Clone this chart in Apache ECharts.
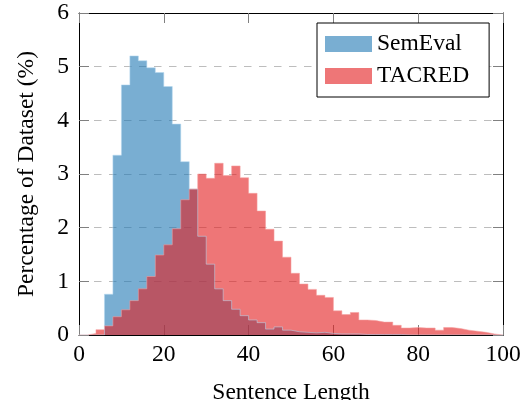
<!DOCTYPE html>
<html>
<head>
<meta charset="utf-8">
<script src="https://cdn.jsdelivr.net/npm/echarts@6/dist/echarts.min.js"></script>
<style>
html,body{margin:0;padding:0;background:#fff;}
#chart{width:525px;height:400px;}
</style>
</head>
<body>
<div id="chart"></div>
<script>
// Histogram bins (left edges, bin width 2)
const binStart = [0,2,4,6,8,10,12,14,16,18,20,22,24,26,28,30,32,34,36,38,40,42,44,46,48,50,52,54,56,58,60,62,64,66,68,70,72,74,76,78,80,82,84,86,88,90,92,94,96,98];
const binWidth = 2;
const semevalValues = [0,0,0,0.76,3.35,4.66,5.2,5.11,4.98,4.89,4.63,3.93,3.23,2.72,1.84,1.32,0.86,0.64,0.48,0.36,0.28,0.23,0.11,0.15,0.09,0.06,0.05,0.04,0.05,0.03,0.02,0.02,0.02,0.01,0.01,0.01,0.01,0.01,0,0,0,0,0,0,0,0,0,0,0,0];
const tacredValues = [0,0.03,0.1,0.17,0.34,0.47,0.64,0.86,1.09,1.49,1.68,1.98,2.52,2.72,3.0,2.92,3.2,2.97,3.15,2.93,2.64,2.31,1.97,1.75,1.45,1.15,0.95,0.85,0.74,0.70,0.45,0.38,0.42,0.28,0.27,0.24,0.24,0.18,0.13,0.14,0.13,0.13,0.09,0.14,0.12,0.09,0.07,0.05,0.02,0];
const seriesNames = ['SemEval','TACRED'];
const xTicks = [0,20,40,60,80,100];
const yTicks = [0,1,2,3,4,5,6];

function stepData(vals){
  const d = binStart.map((s,i)=>[s, vals[i]]);
  d.push([binStart[binStart.length-1]+binWidth, vals[vals.length-1]]);
  return d;
}

const FONT = "'Liberation Serif', 'Times New Roman', serif";
const chart = echarts.init(document.getElementById('chart'), null, {renderer:'canvas'});
const blue = 'rgba(31,120,180,0.6)';
const red = 'rgba(227,26,28,0.6)';

const tickStyle = {show:true, inside:true, length:10, lineStyle:{color:'#808080', width:1}};
chart.setOption({
  animation:false,
  backgroundColor:'#fff',
  grid:{left:79, right:22, top:13, bottom:65, containLabel:false, outerBoundsMode:'none'},
  legend:{
    left:317, top:23,
    orient:'vertical',
    backgroundColor:'#fff', borderColor:'#000', borderWidth:1,
    padding:[9,20,9,8],
    itemGap:8, itemWidth:47, itemHeight:16,
    textStyle:{fontFamily:FONT, fontSize:23.5, color:'#000'},
    data:[{name:seriesNames[0], icon:'rect', itemStyle:{color:blue}},
          {name:seriesNames[1], icon:'rect', itemStyle:{color:red}}]
  },
  xAxis:[{
    type:'value', min:xTicks[0], max:xTicks[xTicks.length-1], interval:20,
    position:'bottom',
    name:'Sentence Length', nameLocation:'middle', nameGap:46,
    nameTextStyle:{fontFamily:FONT, fontSize:23.5, color:'#000'},
    axisLine:{show:true, onZero:false, lineStyle:{color:'#000', width:1}},
    axisTick:tickStyle,
    axisLabel:{fontFamily:FONT, fontSize:23.5, color:'#000', margin:8},
    splitLine:{show:false}
  },{
    type:'value', min:xTicks[0], max:xTicks[xTicks.length-1], interval:20,
    position:'top',
    axisLine:{show:true, onZero:false, lineStyle:{color:'#000', width:1}},
    axisTick:tickStyle, axisLabel:{show:false}, splitLine:{show:false}
  }],
  yAxis:[{
    type:'value', min:yTicks[0], max:yTicks[yTicks.length-1], interval:1,
    position:'left',
    name:'Percentage of Dataset (%)', nameLocation:'middle', nameGap:40,
    nameTextStyle:{fontFamily:FONT, fontSize:23.5, color:'#000'},
    axisLine:{show:true, onZero:false, lineStyle:{color:'#000', width:1}},
    axisTick:tickStyle,
    axisLabel:{fontFamily:FONT, fontSize:23.5, color:'#000', margin:10},
    splitLine:{show:true, lineStyle:{color:'#bdbdbd', width:1, type:[7.5,7.5]}}
  },{
    type:'value', min:yTicks[0], max:yTicks[yTicks.length-1], interval:1,
    position:'right',
    axisLine:{show:true, onZero:false, lineStyle:{color:'#000', width:1}},
    axisTick:tickStyle, axisLabel:{show:false}, splitLine:{show:false}
  }],
  series:[{
    name:seriesNames[0], type:'line', step:'end', data:stepData(semevalValues),
    xAxisIndex:0, yAxisIndex:0,
    symbol:'none', lineStyle:{width:0.6, color:'rgba(180,215,240,0.9)'},
    itemStyle:{color:blue},
    areaStyle:{color:blue, opacity:1}
  },{
    name:seriesNames[1], type:'line', step:'end', data:stepData(tacredValues),
    xAxisIndex:0, yAxisIndex:0,
    symbol:'none', lineStyle:{width:0.6, color:'rgba(245,160,160,0.9)'},
    itemStyle:{color:red},
    areaStyle:{color:red, opacity:1}
  }]
});
</script>
</body>
</html>
